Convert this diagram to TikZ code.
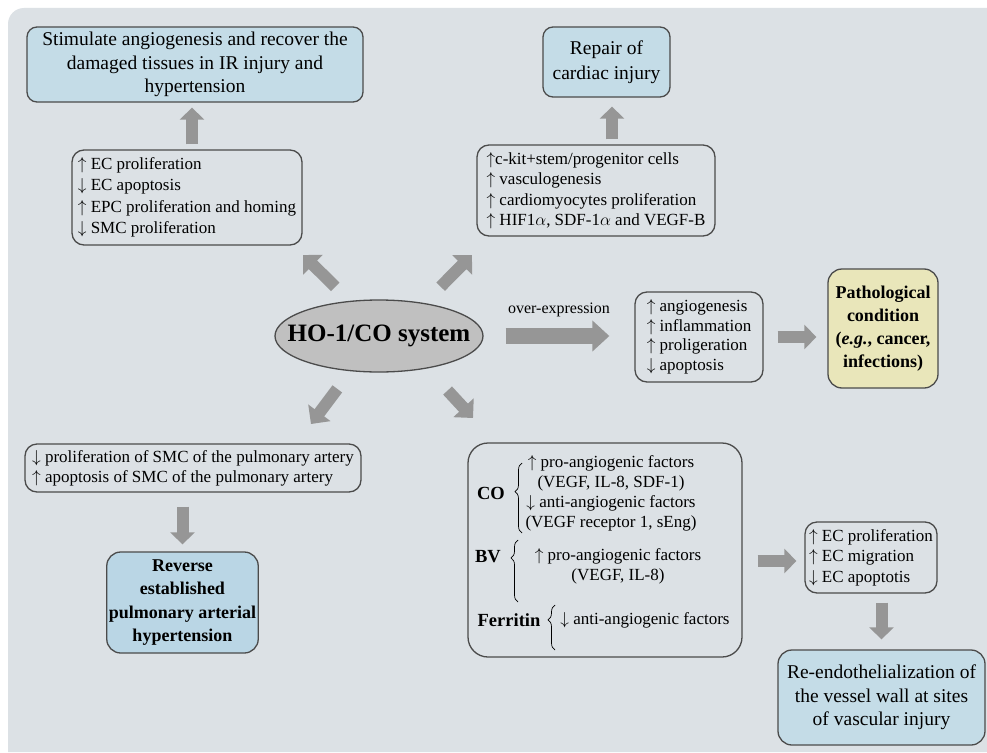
\documentclass[tikz,border=0pt]{standalone}
\usepackage{fontspec}
\setmainfont{Liberation Serif}
\usetikzlibrary{arrows.meta,shapes.geometric,decorations.pathreplacing}

\definecolor{panelbg}{RGB}{220,225,229}
\definecolor{outblue}{RGB}{196,220,231}
\definecolor{revblue}{RGB}{186,214,229}
\definecolor{pathyellow}{RGB}{233,230,186}
\definecolor{hogray}{RGB}{192,192,192}
\definecolor{fatgray}{RGB}{150,150,150}
\definecolor{boxedge}{RGB}{75,75,75}

\begin{document}
\begin{tikzpicture}[x=1pt, y=-1pt,
    outcome/.style={draw=boxedge, line width=1.3pt, fill=outblue, rounded corners=10pt,
      align=center, inner sep=2pt, font=\fontsize{19.5}{23.5}\selectfont},
    effects/.style={draw=boxedge, line width=1.3pt, rounded corners=12pt,
      align=left, inner sep=2pt, font=\fontsize{17}{20.5}\selectfont},
    inlist/.style={font=\fontsize{17}{20}\selectfont, align=center, inner sep=0pt},
    lbl/.style={font=\bfseries\fontsize{18.5}{20}\selectfont, inner sep=0pt},
    fat/.style={draw=fatgray, line width=12pt, -{Triangle[length=12pt,width=24pt]}},
    spoke/.style={fat, -{Triangle[length=14pt,width=27pt]}},
    curly/.style={draw=black, line width=0.7pt, decorate,
      decoration={brace, amplitude=7pt, aspect=#1}},
  ]

  % ==========================================
  % Page and grey panel
  % ==========================================
  \fill[white, use as bounding box] (0,0) rectangle (987,752);
  \fill[panelbg] (8,752) [rounded corners=16pt] -- (8,8) [sharp corners] -- (987,8) -- (987,752) -- cycle;

  % ==========================================
  % Centre: the HO-1/CO system
  % ==========================================
  \node[ellipse, draw=boxedge, line width=1.3pt, fill=hogray, minimum width=208pt,
    minimum height=72pt, inner xsep=-20pt, inner ysep=0pt,
    font=\bfseries\fontsize{25}{30}\selectfont] (ho) at (379,336) {HO-1/CO system};

  % ==========================================
  % Upper branches
  % ==========================================
  \node[outcome, minimum width=336pt, minimum height=75pt] (stim) at (195,64.5)
    {Stimulate angiogenesis and recover the\\damaged tissues in IR injury and\\hypertension};
  \node[effects, minimum width=230pt, minimum height=95pt, font=\fontsize{17}{21.5}\selectfont]
    (ecup) at (187,197.5)
    {$\uparrow$ EC proliferation\\$\downarrow$ EC apoptosis\\$\uparrow$ EPC proliferation and homing\\$\downarrow$ SMC proliferation};

  \node[outcome, minimum width=127pt, minimum height=70pt, font=\fontsize{19.5}{25}\selectfont]
    (repair) at (606.5,62) {Repair of\\cardiac injury};
  \node[effects, minimum width=238pt, minimum height=91pt] (ckit) at (596,190.5)
    {$\uparrow$c-kit+stem/progenitor cells\\$\uparrow$ vasculogenesis\\$\uparrow$ cardiomyocytes proliferation\\$\uparrow$ HIF1$\alpha$, SDF-1$\alpha$ and VEGF-B};

  % ==========================================
  % Right branch (over-expression)
  % ==========================================
  \node[effects, minimum width=128pt, minimum height=90pt, font=\fontsize{17}{19.5}\selectfont]
    (angio) at (699,337) {$\uparrow$ angiogenesis\\$\uparrow$ inflammation\\$\uparrow$ proligeration\\$\downarrow$ apoptosis};
  \node[outcome, fill=pathyellow, minimum width=110pt, minimum height=119pt, rounded corners=14pt,
    font=\bfseries\fontsize{18}{23}\selectfont] (patho) at (883,328.5)
    {Pathological\\condition\\(\textit{e.g.}, cancer,\\infections)};

  % ==========================================
  % Lower left branch
  % ==========================================
  \node[effects, minimum width=336pt, minimum height=48pt, font=\fontsize{17}{20}\selectfont]
    (smc) at (193,468)
    {$\downarrow$ proliferation of SMC of the pulmonary artery\\$\uparrow$ apoptosis of SMC of the pulmonary artery};
  \node[outcome, fill=revblue, minimum width=151pt, minimum height=101pt, rounded corners=14pt,
    font=\bfseries\fontsize{18}{23.5}\selectfont] (reverse) at (182.5,602.5)
    {Reverse\\established\\pulmonary arterial\\hypertension};

  % ==========================================
  % Lower right branch
  % ==========================================
  \node[effects, minimum width=274pt, minimum height=214pt, rounded corners=20pt] (factors) at (605,550) {};

  \node[lbl] (colbl) at (491,493) {CO};
  \node[inlist] (colines) at (611,493)
    {$\uparrow$ pro-angiogenic factors\\(VEGF, IL-8, SDF-1)\\$\downarrow$ anti-angiogenic factors\\(VEGF receptor 1, sEng)};
  \draw[curly=0.59] (522,533) -- (522,463);

  \node[lbl] (bvlbl) at (488,557) {BV};
  \node[inlist] (bvlines) at (618,566) {$\uparrow$ pro-angiogenic factors\\(VEGF, IL-8)};
  \draw[curly=0.71] (518,602) -- (518,540);

  \node[lbl] (ferlbl) at (509,620) {Ferritin};
  \node[inlist] (ferline) at (645,620) {$\downarrow$ anti-angiogenic factors};
  \draw[curly=0.67] (555,650) -- (555,605);

  \node[effects, minimum width=132pt, minimum height=71pt] (ecmig) at (871,557.5)
    {$\uparrow$ EC proliferation\\$\uparrow$ EC migration\\$\downarrow$ EC apoptotis};
  \node[outcome, minimum width=207pt, minimum height=95pt, rounded corners=14pt] (reendo) at (881.5,697.5)
    {Re-endothelialization of\\the vessel wall at sites\\of vascular injury};

  % ==========================================
  % Block arrows
  % ==========================================
  % spokes around the ellipse
  \coordinate (nwtip) at (303,255);
  \coordinate (netip) at (472,255);
  \coordinate (swtip) at (311,424);
  \coordinate (setip) at (473,418);
  \draw[spoke, shorten <=20pt] (ho.130) -- (nwtip);
  \draw[spoke, shorten <=23pt] (ho.36) -- (netip);
  \draw[spoke, shorten <=22pt] (ho.231) -- (swtip);
  \draw[spoke, shorten <=30pt] (ho.326) -- (setip);

  % vertical ones
  \coordinate (upL) at ([xshift=5pt]ecup.north);
  \coordinate (upR) at ([xshift=16pt]ckit.north);
  \draw[fat, shorten <=5pt, shorten >=5pt] (upL) -- (upL |- stim.south);
  \draw[fat, shorten <=5pt, shorten >=9pt] (upR) -- (upR |- repair.south);
  \draw[fat, shorten <=14pt, shorten >=7pt] (reverse.north |- smc.south) -- (reverse.north);
  \draw[fat, shorten <=9pt, shorten >=10pt] (reendo.north |- ecmig.south) -- (reendo.north);

  % horizontal ones
  \draw[fat, line width=16pt, -{Triangle[length=17pt,width=30pt]}, shorten <=22pt, shorten >=25pt]
    (ho.east) -- (ho.east -| angio.west)
    node[midway, yshift=26pt, font=\fontsize{16}{18}\selectfont] {over-expression};
  \draw[fat, shorten <=14pt, shorten >=11pt] (angio.east) -- (angio.east -| patho.west);
  \coordinate (toEC) at ([yshift=-3.5pt]ecmig.west);
  \draw[fat, shorten <=15pt, shorten >=8pt] (toEC -| factors.east) -- (toEC);

\end{tikzpicture}
\end{document}
